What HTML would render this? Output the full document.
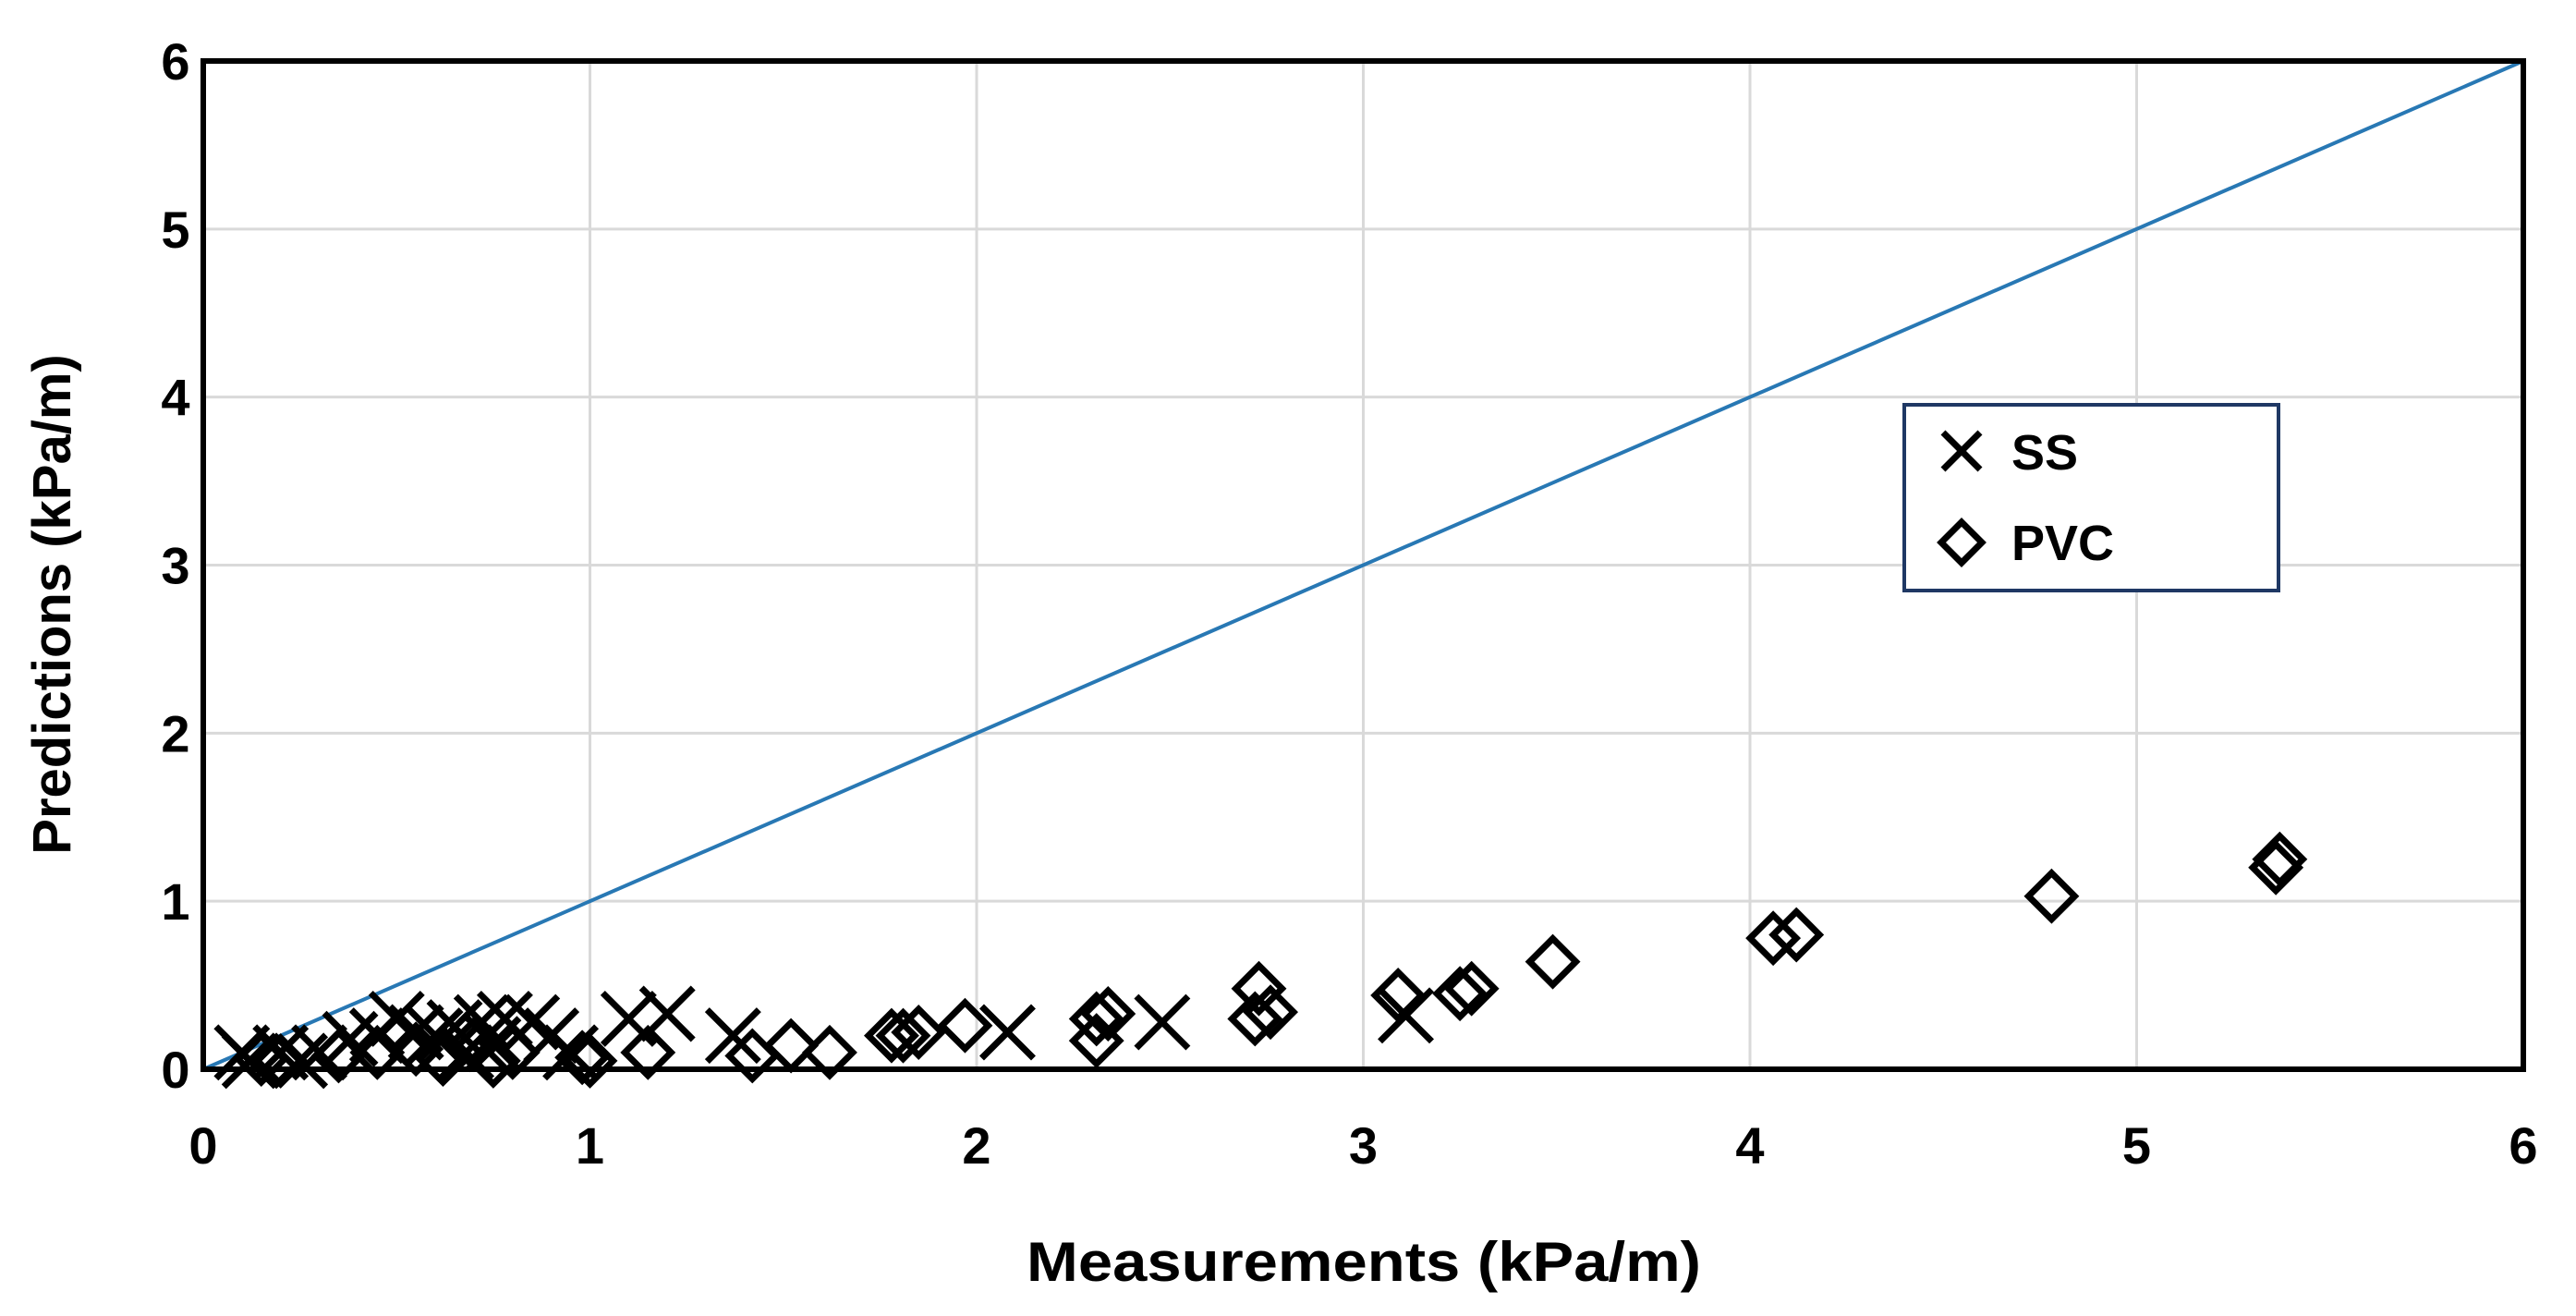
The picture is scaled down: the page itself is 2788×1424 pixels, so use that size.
<!DOCTYPE html>
<html><head><meta charset="utf-8"><style>
html,body{margin:0;padding:0;background:#fff;}
svg{display:block;font-family:"Liberation Sans",sans-serif;}
</style></head><body>
<svg id="chart" width="2788" height="1424" xmlns="http://www.w3.org/2000/svg" style="position:absolute;left:0;top:0"></svg>
<script>
const xTicks=[0,1,2,3,4,5,6];
const yTicks=[0,1,2,3,4,5,6];
const ssX=[3.11,2.48,2.08,1.37,1.2,1.1,0.9,0.85,0.78,0.72,0.65,0.6,0.55,0.5,0.45,0.38,0.3,0.25,0.2,0.12,0.1,0.95,0.75,0.68];
const ssY=[0.32,0.28,0.22,0.2,0.33,0.3,0.2,0.28,0.3,0.28,0.25,0.2,0.22,0.3,0.2,0.18,0.1,0.05,0.1,0.05,0.1,0.1,0.15,0.1];
const pvcX=[5.37,5.36,4.78,4.12,4.06,3.49,3.28,3.25,3.09,2.76,2.73,2.72,2.34,2.31,2.31,1.97,1.85,1.81,1.78,1.62,1.52,1.42,1.15,1.0,0.98,0.75,0.62,0.55,0.45,0.35,0.2,0.15,0.8,0.7];
const pvcY=[1.25,1.2,1.03,0.8,0.78,0.64,0.48,0.45,0.44,0.34,0.48,0.3,0.33,0.3,0.17,0.26,0.22,0.2,0.2,0.1,0.14,0.08,0.1,0.05,0.07,0.05,0.06,0.12,0.1,0.08,0.05,0.06,0.1,0.15];
const L=220,R=2731,T=66,B=1157;
const sx=v=>L+(R-L)*v/6, sy=v=>B-(B-T)*v/6;
const svg=document.getElementById('chart');
const NS='http://www.w3.org/2000/svg';
function mk(tag,attrs,parent){const e=document.createElementNS(NS,tag);for(const k in attrs)e.setAttribute(k,attrs[k]);(parent||svg).appendChild(e);return e;}
xTicks.forEach(t=>{if(t>0&&t<6){const g=mk('line',{x1:sx(t),x2:sx(t),y1:T,y2:B,stroke:'#d9d9d9','stroke-width':3});

}
const tx=mk('text',{x:sx(t),y:B+102,'text-anchor':'middle','font-size':56,'font-weight':'bold'});tx.textContent=t;

});
yTicks.forEach(t=>{if(t>0&&t<6){const g=mk('line',{x1:L,x2:R,y1:sy(t),y2:sy(t),stroke:'#d9d9d9','stroke-width':3});

}
const tx=mk('text',{x:190,y:sy(t)+20,'text-anchor':'middle','font-size':56,'font-weight':'bold'});tx.textContent=t;

});
const ln=mk('line',{x1:sx(0),y1:sy(0),x2:sx(6),y2:sy(6),stroke:'#2878b4','stroke-width':4});


pvcX.forEach((x,i)=>{const cx=sx(x),cy=sy(pvcY[i]),r=25;
const p=mk('polygon',{points:`${cx},${cy-r} ${cx+r},${cy} ${cx},${cy+r} ${cx-r},${cy}`,fill:'none',stroke:'#000','stroke-width':7});

});
ssX.forEach((x,i)=>{const cx=sx(x),cy=sy(ssY[i]),r=28;
const p=mk('path',{d:`M${cx-r},${cy-r}L${cx+r},${cy+r}M${cx-r},${cy+r}L${cx+r},${cy-r}`,stroke:'#000','stroke-width':7,fill:'none'});

});
const fr=mk('rect',{x:L,y:T,width:R-L,height:B-T,fill:'none',stroke:'#000','stroke-width':6});


</script>
<div style="position:absolute;left:0;top:0;width:2788px;height:1424px;pointer-events:none">
<svg width="2788" height="1424" xmlns="http://www.w3.org/2000/svg" style="font-family:'Liberation Sans',sans-serif">
<g>
<rect x="2061" y="438" width="405" height="201" fill="#fff" stroke="#1f3864" stroke-width="4"/>
<path d="M2103,468L2143,508M2103,508L2143,468" stroke="#000" stroke-width="7"/>
<text x="2177" y="508" font-size="54" font-weight="bold">SS</text>
<polygon points="2123,565 2145,587 2123,609 2101,587" fill="none" stroke="#000" stroke-width="7"/>
<text x="2177" y="606" font-size="54" font-weight="bold">PVC</text>
</g>
<text x="1476" y="1386" text-anchor="middle" font-size="60" font-weight="bold" textLength="730" lengthAdjust="spacingAndGlyphs">Measurements (kPa/m)</text>
<text x="0" y="0" transform="translate(76,654) rotate(-90)" text-anchor="middle" font-size="58" font-weight="bold">Predictions (kPa/m)</text>
</svg></div>
</body></html>
